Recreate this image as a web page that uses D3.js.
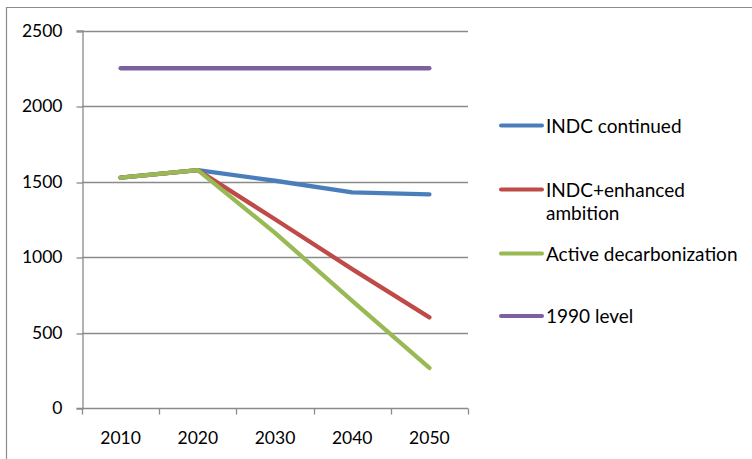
<!DOCTYPE html>
<html>
<head>
<meta charset="utf-8">
<script src="https://cdn.jsdelivr.net/npm/d3@7"></script>
<style>
  html, body { margin: 0; padding: 0; background: #fff; }
  svg { display: block; }
  text { font-family: Lato, "Open Sans", sans-serif; fill: #000; }
</style>
</head>
<body>
<svg id="chart" width="752" height="459"></svg>
<script>
// Emissions pathways by scenario
const years = ["2010", "2020", "2030", "2040", "2050"];
const indcContinued = [1525, 1575, 1505, 1428, 1415];
const indcEnhanced = [1525, 1575, 1250, 920, 600];
const activeDecarb = [1525, 1575, 1160, 710, 265];
const level1990 = [2250, 2250, 2250, 2250, 2250];
const yTicks = [0, 500, 1000, 1500, 2000, 2500];

const seriesNames = ["INDC continued", "INDC+enhanced\nambition", "Active decarbonization", "1990 level"];
const seriesValues = [indcContinued, indcEnhanced, activeDecarb, level1990];
const seriesColors = ["#4a7ebb", "#be4b48", "#98b954", "#7d60a0"];

const svg = d3.select("#chart");
const plot = { left: 82, right: 468, top: 30.5, bottom: 408 };

const x = d3.scaleBand().domain(years).range([plot.left, plot.right]);
const y = d3.scaleLinear().domain([0, 2500]).range([plot.bottom, plot.top]);

// outer frame (top and left edges)
svg.append("path")
  .attr("d", "M6.5,459 V7.5 H752")
  .attr("fill", "none").attr("stroke", "#8c8c8c").attr("stroke-width", 1.2);

// horizontal gridlines
svg.append("g").selectAll("line").data(yTicks.filter(d => d > 0)).join("line")
  .attr("x1", plot.left).attr("x2", plot.right)
  .attr("y1", d => Math.round(y(d)) + 0.5).attr("y2", d => Math.round(y(d)) + 0.5)
  .attr("stroke", "#8a8a8a").attr("stroke-width", 1.3);

// y axis
const yAxis = svg.append("g").attr("transform", `translate(${plot.left + 0.5},0)`)
  .call(d3.axisLeft(y).tickValues(yTicks).tickSize(6).tickPadding(14).tickFormat(d3.format("d")));
yAxis.select(".domain").attr("stroke", "#8a8a8a").attr("stroke-width", 1.3);
yAxis.selectAll(".tick line").attr("stroke", "#8a8a8a").attr("stroke-width", 1.3)
  .attr("transform", d => `translate(0,${Math.round(y(d)) + 0.5 - y(d)})`);
yAxis.selectAll(".tick text").attr("font-size", 17.5).attr("font-family", "Lato, sans-serif").attr("fill", "#000");

// x axis with ticks at category boundaries
const xAxisG = svg.append("g").attr("transform", `translate(0,${Math.round(plot.bottom) + 0.5})`);
xAxisG.append("line").attr("x1", plot.left).attr("x2", plot.right)
  .attr("stroke", "#8a8a8a").attr("stroke-width", 1.3);
const boundaries = years.map(d => x(d)).concat([x(years[years.length - 1]) + x.bandwidth()]);
xAxisG.selectAll("line.tk").data(boundaries).join("line").attr("class", "tk")
  .attr("x1", d => Math.round(d) + 0.5).attr("x2", d => Math.round(d) + 0.5)
  .attr("y1", 0).attr("y2", 6)
  .attr("stroke", "#8a8a8a").attr("stroke-width", 1.3);
xAxisG.selectAll("text").data(years).join("text")
  .attr("x", d => x(d) + x.bandwidth() / 2).attr("y", 35)
  .attr("text-anchor", "middle").attr("font-size", 17.5).text(d => d);

// series lines
const line = d3.line()
  .x((d, i) => x(years[i]) + x.bandwidth() / 2)
  .y(d => y(d));
svg.append("g").selectAll("path").data(seriesValues).join("path")
  .attr("d", d => line(d))
  .attr("fill", "none")
  .attr("stroke", (d, i) => seriesColors[i])
  .attr("stroke-width", 4.3)
  .attr("stroke-linecap", "round")
  .attr("stroke-linejoin", "round");

// legend
const legendY = [125.5, 189.5, 253.5, 316];
const legend = svg.append("g");
seriesNames.forEach((name, i) => {
  const g = legend.append("g").attr("transform", `translate(0,${legendY[i]})`);
  g.append("line").attr("x1", 501).attr("x2", 542).attr("y1", 0).attr("y2", 0)
    .attr("stroke", seriesColors[i]).attr("stroke-width", 4).attr("stroke-linecap", "round");
  const t = g.append("text").attr("x", 546).attr("y", 7).attr("font-size", 19);
  name.split("\n").forEach((ln, j) => {
    t.append("tspan").attr("x", 546).attr("dy", j === 0 ? 0 : 23.5).text(ln);
  });
});
</script>
</body>
</html>
